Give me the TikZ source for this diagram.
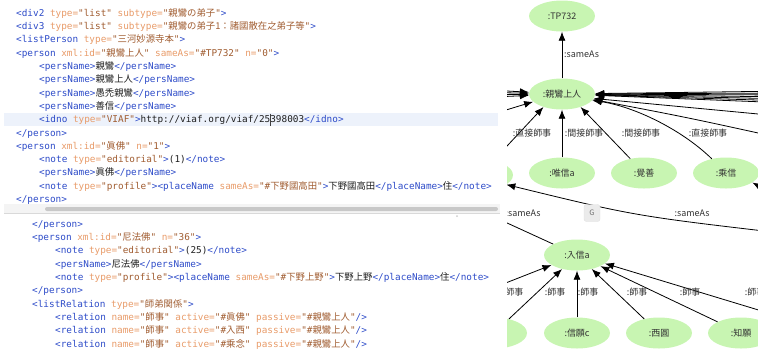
\documentclass[tikz,border=0pt]{standalone}
\usepackage{fontspec}
\newfontfamily\codefont{DejaVu Sans Mono}
\newfontfamily\jpfont{Noto Sans CJK JP}
\newfontfamily\graphfont{Noto Sans CJK JP}
\usetikzlibrary{shapes.geometric, arrows.meta, calc}

\definecolor{xmltag}{RGB}{45,75,200}
\definecolor{xmlattr}{RGB}{232,155,105}
\definecolor{xmlval}{RGB}{160,92,48}
\definecolor{xmltext}{RGB}{30,30,30}
\definecolor{linehl}{RGB}{237,242,251}
\definecolor{splitbg}{RGB}{244,244,244}
\definecolor{scrollthumb}{RGB}{200,200,200}
\definecolor{nodegreen}{RGB}{200,245,178}
\definecolor{labelgray}{RGB}{50,50,50}

\newcommand\xt[1]{\textcolor{xmltag}{#1}}
\newcommand\xa[1]{\textcolor{xmlattr}{#1}}
\newcommand\xv[1]{\textcolor{xmlval}{#1}}
\newcommand\jp[1]{{\jpfont #1}}

\tikzset{
  codeline/.style={anchor=base west, inner sep=0, text=xmltext,
    font=\codefont\fontsize{9.4}{11}\selectfont},
  entity/.style={ellipse, fill=nodegreen, minimum width=66bp, minimum height=31bp,
    inner sep=0, text=labelgray, font=\graphfont\fontsize{9}{10}\selectfont},
  rel/.style={draw=black, line width=0.8bp, -{Latex[length=9bp,width=7bp]}},
  edgelabel/.style={inner sep=0, text=labelgray, font=\graphfont\fontsize{9}{10}\selectfont},
}

\begin{document}
\begin{tikzpicture}[x=1bp, y=-1bp]
    \useasboundingbox (0,0) rectangle (758,354);

    % upper pane of the editor
    \fill[linehl] (4,113) rectangle (498,126);
    \node[codeline] (top0) at (16,16.3) {\xt{<div2} \xa{type=}\xv{"list"} \xa{subtype=}\xv{"\jp{親鸞の弟子}"}\xt{>}};
    \node[codeline] (top1) at (16,29.6) {\xt{<div3} \xa{type=}\xv{"list"} \xa{subtype=}\xv{"\jp{親鸞の弟子1：諸國散在之弟子等}"}\xt{>}};
    \node[codeline] (top2) at (16,42.9) {\xt{<listPerson} \xa{type=}\xv{"\jp{三河妙源寺本}"}\xt{>}};
    \node[codeline] (top3) at (16,56.2) {\xt{<person} \xa{xml:id=}\xv{"\jp{親鸞上人}"} \xa{sameAs=}\xv{"\#TP732"} \xa{n=}\xv{"0"}\xt{>}};
    \node[codeline] (top4) at (39,69.5) {\xt{<persName>}\jp{親鸞}\xt{</persName>}};
    \node[codeline] (top5) at (39,82.8) {\xt{<persName>}\jp{親鸞上人}\xt{</persName>}};
    \node[codeline] (top6) at (39,96.1) {\xt{<persName>}\jp{愚禿親鸞}\xt{</persName>}};
    \node[codeline] (top7) at (39,109.4) {\xt{<persName>}\jp{善信}\xt{</persName>}};
    \node[codeline] (top8) at (39,122.7) {\xt{<idno} \xa{type=}\xv{"VIAF"}\xt{>}http://viaf.org/viaf/25398003\xt{</idno>}};
    \draw[black!75, line width=0.5bp] (270.5,113.5) -- (270.5,125.5);
    \node[codeline] (top9) at (16,136.0) {\xt{</person>}};
    \node[codeline] (top10) at (16,149.3) {\xt{<person} \xa{xml:id=}\xv{"\jp{眞佛}"} \xa{n=}\xv{"1"}\xt{>}};
    \node[codeline] (top11) at (39,162.6) {\xt{<note} \xa{type=}\xv{"editorial"}\xt{>}(1)\xt{</note>}};
    \node[codeline] (top12) at (39,175.9) {\xt{<persName>}\jp{眞佛}\xt{</persName>}};
    \node[codeline] (top13) at (39,189.2) {\xt{<note} \xa{type=}\xv{"profile"}\xt{><placeName} \xa{sameAs=}\xv{"\#\jp{下野國高田}"}\xt{>}\jp{下野國高田}\xt{</placeName>}\jp{住}\xt{</note>}};
    \node[codeline] (top14) at (16,202.3) {\xt{</person>}};

    % splitter with scroll bar
    \fill[splitbg] (4,204) rectangle (500,213);
    \fill[scrollthumb, rounded corners=2bp] (45,207) rectangle (498,211);
    \draw[black!15, line width=0.5bp] (4,213.5) -- (500,213.5);
    \fill[black!20] (457,216) circle (1bp);

    % lower pane of the editor
    \node[codeline] (bot0) at (32,227.3) {\xt{</person>}};
    \node[codeline] (bot1) at (32,240.6) {\xt{<person} \xa{xml:id=}\xv{"\jp{尼法佛}"} \xa{n=}\xv{"36"}\xt{>}};
    \node[codeline] (bot2) at (55,253.9) {\xt{<note} \xa{type=}\xv{"editorial"}\xt{>}(25)\xt{</note>}};
    \node[codeline] (bot3) at (55,267.2) {\xt{<persName>}\jp{尼法佛}\xt{</persName>}};
    \node[codeline] (bot4) at (55,280.5) {\xt{<note} \xa{type=}\xv{"profile"}\xt{><placeName} \xa{sameAs=}\xv{"\#\jp{下野上野}"}\xt{>}\jp{下野上野}\xt{</placeName>}\jp{住}\xt{</note>}};
    \node[codeline] (bot5) at (32,293.8) {\xt{</person>}};
    \node[codeline] (bot6) at (32,307.1) {\xt{<listRelation} \xa{type=}\xv{"\jp{師弟関係}"}\xt{>}};
    \node[codeline] (bot7) at (55,320.4) {\xt{<relation} \xa{name=}\xv{"\jp{師事}"} \xa{active=}\xv{"\#\jp{眞佛}"} \xa{passive=}\xv{"\#\jp{親鸞上人}"}\xt{/>}};
    \node[codeline] (bot8) at (55,333.7) {\xt{<relation} \xa{name=}\xv{"\jp{師事}"} \xa{active=}\xv{"\#\jp{入西}"} \xa{passive=}\xv{"\#\jp{親鸞上人}"}\xt{/>}};
    \node[codeline] (bot9) at (55,347.0) {\xt{<relation} \xa{name=}\xv{"\jp{師事}"} \xa{active=}\xv{"\#\jp{乘念}"} \xa{passive=}\xv{"\#\jp{親鸞上人}"}\xt{/>}};

    % graph view
    \begin{scope}
      \clip (507,0) rectangle (758,354);

      \node[entity] (tp732) at (562,16) {:TP732};
      \node[entity] (shinran) at (562,94) {:親鸞上人};
      \node[entity] (leftA) at (480,175) {};
      \node[entity] (yuishin) at (562,173) {:唯信a};
      \node[entity] (kakuzen) at (644,173) {:覺善};
      \node[entity] (joshin) at (726,173) {:乘信};
      \node[entity] (nyushin) at (577,255) {:入信a};
      \node[entity] (leftB) at (494,333) {};
      \node[entity] (shingan) at (577,333) {:信願c};
      \node[entity] (saien) at (659,333) {:西圓};
      \node[entity] (chigan) at (741,333) {:知願};

      % ends of edges outside the view
      \coordinate (sameL) at (470,206);
      \coordinate (sameR) at (790,234);
      \coordinate (inL) at (470,297);
      \coordinate (inR) at (775,315);
      \coordinate (joshinR) at (785,200);
      \coordinate (lowL) at (470,121);
      \coordinate (outR1) at (790,117);
      \coordinate (outR2) at (790,140);

      \draw[rel] (shinran) -- (tp732);
      \node[edgelabel, anchor=west] (lbl_same_top) at (564,54) {:sameAs};

      \foreach \i/\dy in {1/89,2/92,3/95,4/98} {
        \coordinate (inLeft\i) at (470,\dy);
        \draw[rel] (inLeft\i) -- (shinran);
      }
      \draw[rel] (lowL) -- (shinran.-165);
      \foreach \i/\dy in {1/91,2/93,3/95,4/97,5/99,6/101,7/103} {
        \coordinate (inRight\i) at (790,\dy);
        \draw[rel] (inRight\i) -- (shinran);
      }
      \draw[rel] (outR1) -- (shinran.-8);
      \draw[rel] (outR2) .. controls (690,118) .. (shinran.-10);

      \draw[rel] (leftA) -- (shinran.-145);
      \draw[rel] (yuishin) -- (shinran);
      \draw[rel] (kakuzen) -- (shinran.-35);
      \draw[rel] (joshin.135) .. controls (680,128) and (632,106) .. (shinran.-12);
      \draw[rel] (joshinR) -- (joshin.-20);
      \node[edgelabel] (lbl_direct1) at (532,133) {:直接師事};
      \node[edgelabel] (lbl_indirect1) at (584,133) {:間接師事};
      \node[edgelabel] (lbl_indirect2) at (641,133) {:間接師事};
      \node[edgelabel] (lbl_direct2) at (708,133) {:直接師事};

      \draw[rel] (sameR) .. controls (635,216) .. (leftA.-20);
      \draw[rel] (nyushin) -- (sameL);
      \node[edgelabel] (lbl_same_left) at (523,213) {:sameAs};
      \node[edgelabel] (lbl_same_right) at (692,213) {:sameAs};

      \draw[rel] (inL) -- (nyushin);
      \draw[rel] (leftB) -- (nyushin);
      \draw[rel] (shingan) -- (nyushin);
      \draw[rel] (saien) -- (nyushin);
      \draw[rel] (chigan) -- (nyushin);
      \draw[rel] (inR) -- (nyushin);
      \node[edgelabel] (lbl_sj1) at (513,292) {:師事};
      \node[edgelabel] (lbl_sj2) at (555,292) {:師事};
      \node[edgelabel] (lbl_sj3) at (588,292) {:師事};
      \node[edgelabel] (lbl_sj4) at (637,292) {:師事};
      \node[edgelabel] (lbl_sj5) at (690,292) {:師事};
      \node[edgelabel] (lbl_sj6) at (755,292) {:師事};

      \node[draw=black!12, fill=black!8, rounded corners=2.5bp, minimum width=16bp,
        minimum height=17bp, inner sep=0, text=black!55,
        font=\graphfont\fontsize{7.5}{8}\selectfont] (gbtn) at (592,213) {G};
    \end{scope}

\end{tikzpicture}
\end{document}
